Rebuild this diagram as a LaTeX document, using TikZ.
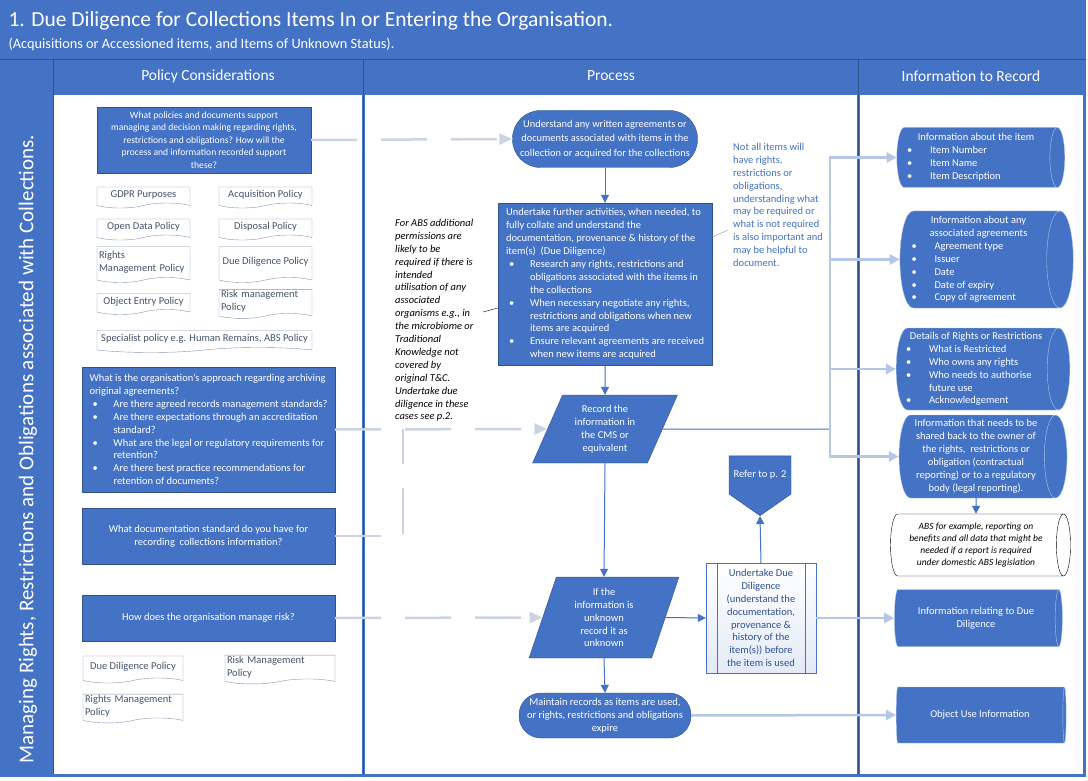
\documentclass[tikz,border=0pt]{standalone}
\usepackage{fontspec}
\setmainfont{Carlito}
\usepackage{tikz}
\usetikzlibrary{shapes,arrows,arrows.meta}
\definecolor{bblue}{HTML}{4472C4}
\definecolor{bdark}{HTML}{2F528F}
\definecolor{bpale}{HTML}{B4C7E7}
\definecolor{bgrey}{HTML}{CCD4E4}
\definecolor{bedge}{HTML}{8497B0}
\definecolor{dtext}{HTML}{44546A}
\newcommand{\bodyfont}{\fontsize{10.5}{12.9}\selectfont}
\newcommand{\bul}{\hspace*{3pt}\makebox[21pt][l]{\textbullet}}
\newcommand{\cont}{\hspace*{24pt}}
\newcommand{\rb}[2]{\makebox[#1][l]{\makebox[23pt][l]{\textbullet}#2}}
\newcommand{\rc}[2]{\makebox[#1][l]{\hspace*{23pt}#2}}
\tikzstyle{qbox} = [rectangle, draw=bdark, fill=bblue, text=white, align=center, inner sep=2pt]
\tikzstyle{doc} = [tape, tape bend top=none, tape bend height=5pt, draw=bedge, fill=white, text=dtext, align=center, inner sep=1pt]
\tikzstyle{term} = [rectangle, draw=bdark, fill=bblue, text=white, align=center, inner sep=1pt]
\tikzstyle{io} = [trapezium, trapezium stretches=true, draw=bdark, fill=bblue, text=white, align=center, inner sep=1pt]
\tikzstyle{datastore} = [cylinder, aspect=0.3, draw=bpale, fill=bblue, text=white, align=center, inner sep=1pt]
\tikzstyle{offpage} = [signal, signal to=south, signal from=nowhere, signal pointer angle=110, draw=bdark, fill=bblue, text=white, inner sep=2pt]
\tikzstyle{remark} = [align=left, anchor=north west, inner sep=0pt]
\tikzstyle{arrow} = [draw, bblue, line width=1pt, -{Triangle[length=8pt,width=8pt]}]
\tikzstyle{line} = [draw, bblue, line width=1pt]
\tikzstyle{feed} = [draw, bpale, line width=2.5pt, -{Triangle[length=10pt,width=10pt]}]
\tikzstyle{dashline} = [draw, bgrey, line width=2.5pt, dash pattern=on 46pt off 24pt]
\tikzstyle{dashlink} = [dashline, -{Triangle[length=13pt,width=11pt]}]

\begin{document}
\begin{tikzpicture}[x=1pt, y=-1pt, font=\bodyfont]
\useasboundingbox (0,0) rectangle (1088,781);
%% frame and headings
\fill[bblue] (0,0) rectangle (1086,777);
\fill[white] (54,95) rectangle (362,774);
\fill[white] (365,95) rectangle (857,774);
\fill[white] (860,95) rectangle (1083,774);
\draw[bdark] (0,59) -- (1086,59);
\draw[bdark] (53.5,59) -- (53.5,774);
\draw[bdark] (363.5,59) -- (363.5,774);
\draw[bdark] (858.5,59) -- (858.5,774);

\node[anchor=west, text=white, font=\fontsize{21.5}{24}\selectfont] (title) at (5,21) {1. Due Diligence for Collections Items In or Entering the Organisation.};
\node[anchor=west, text=white, font=\fontsize{14.3}{16}\selectfont] (subtitle) at (5,44) {(Acquisitions or Accessioned items, and Items of Unknown Status).};
\node[text=white, font=\fontsize{15.5}{17}\selectfont] (hpolicy) at (208,76) {Policy Considerations};
\node[text=white, font=\fontsize{15.5}{17}\selectfont] (hprocess) at (611,76) {Process};
\node[text=white, font=\fontsize{15.5}{17}\selectfont] (hrecord) at (971,76) {Information to Record};
\node[rotate=90, text=white, font=\fontsize{21}{24}\selectfont] (side) at (28,449) {Managing Rights, Restrictions and Obligations associated with Collections.};

%% policy considerations
\node[qbox, minimum width=214pt, minimum height=66pt, font=\fontsize{9.6}{12.4}\selectfont] at (204,140) (q1) {What policies and documents support\\managing and decision making regarding rights,\\restrictions and obligations? How will the\\process and information recorded support\\these?};

\node[doc, minimum width=93pt, minimum height=21pt] at (143.5,195) (gdpr) {GDPR Purposes};
\node[doc, minimum width=93pt, minimum height=21pt] at (265.5,195) (acq) {Acquisition Policy};
\node[doc, minimum width=93pt, minimum height=21pt] at (143.5,227) (opendata) {Open Data Policy};
\node[doc, minimum width=93pt, minimum height=21pt] at (265.5,227) (disposal) {Disposal Policy};
\node[doc, minimum width=93pt, minimum height=36pt, align=left, text width=89pt] at (143.5,262) (rightsa) {Rights\\Management Policy};
\node[doc, minimum width=93pt, minimum height=36pt] at (265.5,262) (ddpola) {Due Diligence Policy};
\node[doc, minimum width=93pt, minimum height=21pt] at (143.5,301.5) (entry) {Object Entry Policy};
\node[doc, minimum width=93pt, minimum height=24pt, align=left, text width=89pt] at (265.5,301.5) (riska) {Risk management\\Policy};
\node[doc, minimum width=215pt, minimum height=22pt] at (204.5,339) (special) {Specialist policy e.g. Human Remains, ABS Policy};

\node[qbox, minimum width=253pt, minimum height=125pt, align=left] at (208.5,429.5) (q2) {What is the organisation's approach regarding archiving\\original agreements?\\
\bul Are there agreed records management standards?\\
\bul Are there expectations through an accreditation\\\cont standard?\\
\bul What are the legal or regulatory requirements for\\\cont retention?\\
\bul Are there best practice recommendations for\\\cont retention of documents?};

\node[qbox, minimum width=253pt, minimum height=56pt] at (208.5,536) (q3) {What documentation standard do you have for\\recording\ \ collections information?};
\node[qbox, minimum width=253pt, minimum height=46pt] at (208.5,618) (q4) {How does the organisation manage risk?};

\node[doc, minimum width=100pt, minimum height=27pt] at (133,667) (ddpolb) {Due Diligence Policy};
\node[doc, minimum width=110pt, minimum height=27pt, align=left, text width=106pt] at (280,667) (riskb) {Risk Management\\Policy};
\node[doc, minimum width=100pt, minimum height=25pt, align=left, text width=96pt] at (133,706) (rightsb) {Rights Management\\Policy};

%% process
\node[term, rounded corners=28pt, minimum width=185pt, minimum height=57pt, font=\fontsize{10.4}{14.5}\selectfont] at (605,139) (und) {Understand any written agreements or\\documents associated with items in the\\collection or acquired for the collections};

\node[qbox, minimum width=214pt, minimum height=162pt, align=left] at (605,284) (dd) {Undertake further activities, when needed, to\\fully collate and understand the\\documentation, provenance \& history of the\\item(s)\ \ (Due Diligence)\\
\bul Research any rights, restrictions and\\\cont obligations associated with the items in\\\cont the collections\\
\bul When necessary negotiate any rights,\\\cont restrictions and obligations when new\\\cont items are acquired\\
\bul Ensure relevant agreements are received\\\cont when new items are acquired};

\node[remark, font=\fontsize{10.5}{12.9}\selectfont\itshape] at (395,219) (absnote) {For ABS additional\\permissions are\\likely to be\\required if there is\\intended\\utilisation of any\\associated\\organisms e.g., in\\the microbiome or\\Traditional\\Knowledge not\\covered by\\original T\&C.\\Undertake due\\diligence in these\\cases see p.2.};
\coordinate (absend) at (483,312);
\draw[black] (absend) -- ([yshift=-24pt]dd.west);

\node[remark, text=bblue] at (733,143) (itemnote) {Not all items will\\have rights,\\restrictions or\\obligations,\\understanding what\\may be required or\\what is not required\\is also important and\\may be helpful to\\document.};
\coordinate (itemend) at (728,230);
\draw[bedge] (itemend) -- ([yshift=47pt]dd.east);

\node[io, trapezium left angle=66, trapezium right angle=114, minimum width=145pt, minimum height=68pt] at (605,429) (rec) {Record the\\information in\\the CMS or\\equivalent};
\node[io, trapezium left angle=74, trapezium right angle=106, minimum width=150pt, minimum height=81pt] at (604,617.5) (unk) {If the\\information is\\unknown\\record it as\\unknown};
\node[term, rounded corners=22pt, minimum width=172pt, minimum height=45pt] at (605,715.5) (keep) {Maintain records as items are used,\\or rights, restrictions and obligations\\expire};

\node[rectangle, draw=bblue, top color=white, bottom color=bblue!15, text=bdark, align=center, minimum width=110pt, minimum height=110pt, inner sep=1pt] at (761,618) (ddo) {Undertake Due\\Diligence\\(understand the\\documentation,\\provenance \&\\history of the\\item(s)) before\\the item is used};
\draw[bblue] ([xshift=11pt]ddo.north west) -- ([xshift=11pt]ddo.south west);
\draw[bblue] ([xshift=-11pt]ddo.north east) -- ([xshift=-11pt]ddo.south east);

\node[offpage, minimum width=62pt, minimum height=58pt] at (760,475) (refer) {Refer to p. 2};

%% information to record
\node[datastore, minimum height=168pt, minimum width=60pt] at (976,157.5) (item) {Information about the item\\\rb{138pt}{Item Number}\\\rb{138pt}{Item Name}\\\rb{138pt}{Item Description}};
\node[datastore, minimum height=173pt, minimum width=97pt] at (978.5,259.5) (agree) {Information about any\\associated agreements\\\rb{134pt}{Agreement type}\\\rb{134pt}{Issuer}\\\rb{134pt}{Date}\\\rb{134pt}{Date of expiry}\\\rb{134pt}{Copy of agreement}};
\node[datastore, minimum height=168pt, minimum width=82pt] at (976,369) (rights) {Details of Rights or Restrictions\\\rb{140pt}{What is Restricted}\\\rb{140pt}{Who owns any rights}\\\rb{140pt}{Who needs to authorise}\\\rc{140pt}{future use}\\\rb{140pt}{Acknowledgement}};
\node[datastore, minimum height=168pt, minimum width=83pt] at (976,456.5) (share) {Information that needs to be\\shared back to the owner of\\the rights,\ \ restrictions or\\obligation (contractual\\reporting) or to a regulatory\\body (legal reporting).};
\node[datastore, draw=black, fill=white, text=black, minimum height=180pt, minimum width=62pt, font=\fontsize{9.5}{12.3}\selectfont\itshape] at (976,545) (abs) {ABS for example, reporting on\\benefits and all data that might be\\needed if a report is required\\under domestic ABS legislation};
\node[datastore, minimum height=168pt, minimum width=57pt] at (976,618) (ddinfo) {Information relating to Due\\Diligence};
\node[datastore, minimum height=170pt, minimum width=56pt] at (980,715) (use) {Object Use Information};

%% process flow
\path[arrow] (und.south) -- (dd.north);
\path[arrow] (dd.south) -- (rec.north);
\path[arrow] (rec.south) -- (unk.north);
\path[arrow] (unk.south) -- (keep.north);
\path[arrow] (unk.east) -- (ddo.west);
\path[arrow] (ddo.north) -- (refer.south);
\path[arrow] (share.south) -- (abs.north);

%% what gets recorded
\coordinate (trunk) at (830,429);
\path[line] (rec.east) -- (trunk);
\path[feed] (trunk) |- (item.west);
\path[feed] (trunk) |- (agree.west);
\path[feed] (trunk) |- (rights.west);
\path[feed] (trunk) |- (share.west);
\path[feed] (ddo.east) -- (ddinfo.west);
\path[feed] (keep.east) -- (use.west);

%% policy links
\path[dashlink] (q1.east) -- (und.west);
\path[dashlink] (q2.east) -- (rec.west);
\coordinate (join) at (403,429);
\path[dashline] (q3.east) -| (join);
\path[dashlink] (q4.east) -- (unk.west);
\end{tikzpicture}
\end{document}
